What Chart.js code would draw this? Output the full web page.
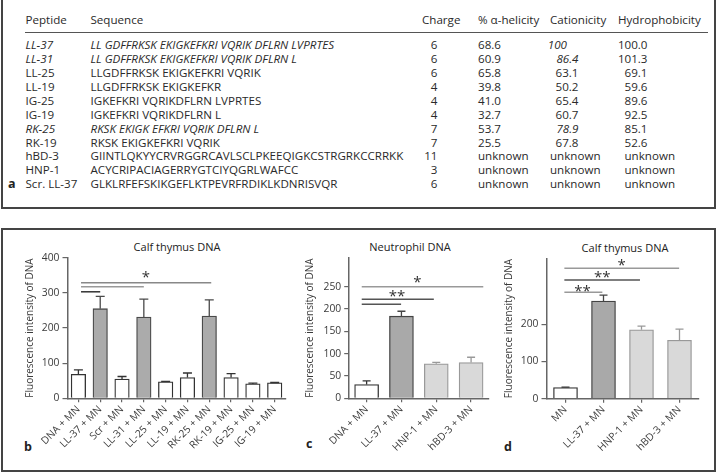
<!DOCTYPE html>
<html>
<head>
<meta charset="utf-8">
<script src="https://cdn.jsdelivr.net/npm/chart.js@4.4.1/dist/chart.umd.min.js"></script>
<style>
  body { margin: 0; width: 717px; height: 473px; background: #fff; position: relative; overflow: hidden;
         font-family: "Open Sans", sans-serif; color: #222; }
  .box { position: absolute; border: 2px solid #444; box-sizing: border-box; }
  .c { position: absolute; font-size: 11.6px; line-height: 14px; white-space: nowrap; color: #2a2a2a; }
  .it { font-style: italic; }
  .r { text-align: right; }
  .lbl { position: absolute; font-weight: bold; font-size: 12.5px; line-height: 14px; }
  .ttl { position: absolute; font-size: 11px; line-height: 14px; white-space: nowrap; transform: translateX(-50%); color: #222; }
  canvas { position: absolute; }
</style>
</head>
<body>
<div class="box" style="left:1px;top:-2px;width:715px;height:211px"></div>
<div class="box" style="left:1px;top:228px;width:715px;height:244px"></div>
<div id="table"></div>

<div class="ttl" style="left:177px;top:240px">Calf thymus DNA</div>
<div class="ttl" style="left:410px;top:240px">Neutrophil DNA</div>
<div class="ttl" style="left:625px;top:241px">Calf thymus DNA</div>
<div class="lbl" style="left:24px;top:440px">b</div>
<div class="lbl" style="left:306px;top:437px">c</div>
<div class="lbl" style="left:504px;top:440px">d</div>

<canvas id="chartB" width="300" height="235" style="left:0;top:235px"></canvas>
<canvas id="chartC" width="200" height="235" style="left:300px;top:235px"></canvas>
<canvas id="chartD" width="222" height="235" style="left:495px;top:235px"></canvas>

<script>
// table (panel a)
const peptides = ['LL-37', 'LL-31', 'LL-25', 'LL-19', 'IG-25', 'IG-19', 'RK-25', 'RK-19', 'hBD-3', 'HNP-1', 'Scr. LL-37'];
const sequences = [
  'LL GDFFRKSK EKIGKEFKRI VQRIK DFLRN LVPRTES',
  'LL GDFFRKSK EKIGKEFKRI VQRIK DFLRN L',
  'LLGDFFRKSK EKIGKEFKRI VQRIK',
  'LLGDFFRKSK EKIGKEFKR',
  'IGKEFKRI VQRIKDFLRN LVPRTES',
  'IGKEFKRI VQRIKDFLRN L',
  'RKSK EKIGK EFKRI VQRIK DFLRN L',
  'RKSK EKIGKEFKRI VQRIK',
  'GIINTLQKYYCRVRGGRCAVLSCLPKEEQIGKCSTRGRKCCRRKK',
  'ACYCRIPACIAGERRYGTCIYQGRLWAFCC',
  'GLKLRFEFSKIKGEFLKTPEVRFRDIKLKDNRISVQR'
];
const charges = ['6', '6', '6', '4', '4', '4', '7', '7', '11', '3', '6'];
const helicity = ['68.6', '60.9', '65.8', '39.8', '41.0', '32.7', '53.7', '25.5', 'unknown', 'unknown', 'unknown'];
const cationicity = ['100', '86.4', '63.1', '50.2', '65.4', '60.7', '78.9', '67.8', 'unknown', 'unknown', 'unknown'];
const hydrophobicity = ['100.0', '101.3', '69.1', '59.6', '89.6', '92.5', '85.1', '52.6', 'unknown', 'unknown', 'unknown'];
const italicRows = ['LL-37', 'LL-31', 'RK-25'];
const italicCation = ['100', '86.4', '78.9'];

const tbl = document.getElementById('table');
function cell(text, x, yc, opts = {}) {
  const d = document.createElement('div');
  d.className = 'c' + (opts.it ? ' it' : '') + (opts.right ? ' r' : '');
  d.textContent = text;
  d.style.top = (yc - 7) + 'px';
  if (opts.right) { d.style.left = (x - 80) + 'px'; d.style.width = '80px'; }
  else d.style.left = x + 'px';
  tbl.appendChild(d);
}
cell('Peptide', 25.5, 19.5);
cell('Sequence', 90.5, 19.5);
cell('Charge', 422, 19.5);
cell('% α-helicity', 478, 19.5);
cell('Cationicity', 550, 19.5);
cell('Hydrophobicity', 618, 19.5);
const rule = document.createElement('div');
rule.style.cssText = 'position:absolute;left:25px;top:32px;width:683px;height:1px;background:#555';
tbl.appendChild(rule);

peptides.forEach((p, i) => {
  const y = 45 + i * 13.93;
  const it = italicRows.includes(p);
  cell(p, 25.5, y, {it});
  cell(sequences[i], 90.5, y, {it});
  cell(charges[i], 437.5, y, {right: true});
  cell(helicity[i], 478, y);
  if (cationicity[i] === 'unknown') cell('unknown', 550, y);
  else if (cationicity[i] === '100') cell('100', 567, y, {right: true, it: true});
  else cell(cationicity[i], 578.5, y, {right: true, it: italicCation.includes(cationicity[i])});
  if (hydrophobicity[i] === 'unknown') cell('unknown', 624.5, y);
  else cell(hydrophobicity[i], 647.5, y, {right: true});
});
const la = document.createElement('div');
la.className = 'lbl'; la.textContent = 'a';
la.style.left = '8px'; la.style.top = '177px';
tbl.appendChild(la);

// panel b
const labelsB = ['DNA + MN', 'LL-37 + MN', 'Scr + MN', 'LL-31 + MN', 'LL-25 + MN', 'LL-19 + MN', 'RK-25 + MN', 'RK-19 + MN', 'IG-25 + MN', 'IG-19 + MN'];
const meanB = [68, 255, 55, 231, 47, 59, 234, 59, 41, 44];
const errB = [13, 35, 7, 51, 1, 13, 46, 11, 2, 1];
const fillB = ['#fff', '#ababab', '#fff', '#ababab', '#fff', '#fff', '#ababab', '#fff', '#fff', '#fff'];
const edgeB = ['#333', '#4a4a4a', '#333', '#4a4a4a', '#333', '#333', '#4a4a4a', '#333', '#333', '#333'];
// significance lines: from index, to index, value, colour
const sigB = [[0.12, 1.0, 303, '#333'], [0.12, 3.0, 317, '#999'], [0.12, 6.09, 329, '#888']];
const starsB = [[3.09, 353, '*']];

// panel c
const labelsC = ['DNA + MN', 'LL-37 + MN', 'HNP-1 + MN', 'hBD-3 + MN'];
const meanC = [31, 184, 77.5, 80];
const errC = [8, 11, 3, 12];
const sigC = [[-0.14, 3.35, 250, '#999'], [-0.14, 1.93, 222, '#555'], [-0.14, 0.99, 210.5, '#555']];
const starsC = [[1.46, 267, '*'], [0.87, 236, '**']];

// panel d
const labelsD = ['MN', 'LL-37 + MN', 'HNP-1 + MN', 'hBD-3 + MN'];
const meanD = [30, 262, 185, 157];
const errD = [1, 16, 10, 30];
const sigD = [[-0.03, 2.99, 350.5, '#999'], [-0.03, 1.96, 319, '#555'], [-0.03, 0.97, 286, '#999']];
const starsD = [[1.48, 368, '*'], [0.97, 334, '**'], [0.45, 298, '**']];

const fillCD = ['#fff', '#a9a9a9', '#d9d9d9', '#d9d9d9'];
const edgeCD = ['#333', '#444', '#999', '#999'];

function annot(err, mean, edges, cap, sig, stars) {
  return {
    id: 'annot',
    afterDatasetsDraw(chart) {
      const ctx = chart.ctx, xs = chart.scales.x, ys = chart.scales.y;
      const bars = chart.getDatasetMeta(0).data;
      ctx.save();
      bars.forEach((b, i) => {
        const top = ys.getPixelForValue(mean[i] + err[i]);
        ctx.strokeStyle = edges[i];
        ctx.lineWidth = 1.3;
        ctx.beginPath();
        ctx.moveTo(b.x, b.y);
        ctx.lineTo(b.x, top);
        ctx.moveTo(b.x - cap / 2, top);
        ctx.lineTo(b.x + cap / 2, top);
        ctx.stroke();
      });
      sig.forEach(s => {
        const y = ys.getPixelForValue(s[2]);
        ctx.strokeStyle = s[3];
        ctx.lineWidth = 1.5;
        ctx.beginPath();
        ctx.moveTo(xs.getPixelForValue(s[0]), y);
        ctx.lineTo(xs.getPixelForValue(s[1]), y);
        ctx.stroke();
      });
      ctx.fillStyle = '#333';
      ctx.font = '15px "Open Sans"';
      ctx.textAlign = 'center';
      ctx.textBaseline = 'alphabetic';
      stars.forEach(s => {
        ctx.fillText(s[2], xs.getPixelForValue(s[0]), ys.getPixelForValue(s[1]) + 8);
      });
      ctx.restore();
    }
  };
}

function makeChart(id, labels, mean, err, fill, edge, o) {
  new Chart(document.getElementById(id), {
    type: 'bar',
    data: {
      labels: labels,
      datasets: [{
        data: mean,
        backgroundColor: fill,
        borderColor: edge,
        borderWidth: 1.3,
        barThickness: o.bar
      }]
    },
    options: {
      responsive: false,
      animation: false,
      devicePixelRatio: 1,
      layout: { padding: { top: o.top, right: o.right, left: 0, bottom: 0 } },
      plugins: { legend: { display: false }, tooltip: { enabled: false } },
      scales: {
        x: {
          afterFit: s => { s.height = o.xh; },
          grid: { display: true, drawOnChartArea: false, offset: false, tickLength: 4, color: '#666', lineWidth: 1.2 },
          border: { display: true, color: '#666', width: 1.5 },
          ticks: { autoSkip: false, minRotation: 45, maxRotation: 45, padding: 1, color: '#3a3a3a',
                   font: { family: 'Open Sans', size: 10.3 } }
        },
        y: {
          min: 0,
          max: o.max,
          afterFit: s => { s.width = o.yw; },
          afterBuildTicks: s => { s.ticks = s.ticks.filter(t => t.value <= o.lastTick); },
          grid: { display: true, drawOnChartArea: false, tickLength: 5, color: '#666', lineWidth: 1.2 },
          border: { display: true, color: '#666', width: 1.5 },
          ticks: { stepSize: o.step, padding: 3, color: '#3a3a3a', font: { family: 'Open Sans', size: 10.3 } },
          title: { display: true, text: 'Fluorescence intensity of DNA', color: '#3a3a3a',
                   font: { family: 'Open Sans', size: 10 }, padding: { top: o.tp, bottom: 0 } }
        }
      }
    },
    plugins: [annot(err, mean, edge, o.cap, o.sig, o.stars)]
  });
}

makeChart('chartB', labelsB, meanB, errB, fillB, edgeB,
  { bar: 14.5, top: 22.7, right: 14.4, xh: 71.7, yw: 67.5, max: 400, lastTick: 400, step: 100, tp: 24.5, cap: 9, sig: sigB, stars: starsB });
makeChart('chartC', labelsC, meanC, errC, fillCD, edgeCD,
  { bar: 24, top: 22.7, right: 11.5, xh: 71.7, yw: 49.2, max: 315, lastTick: 250, step: 50, tp: 4.5, cap: 8, sig: sigC, stars: starsC });
makeChart('chartD', labelsD, meanD, errD, fillCD, edgeCD,
  { bar: 24, top: 23.3, right: 18.5, xh: 71.3, yw: 51.5, max: 377, lastTick: 200, step: 100, tp: 7.8, cap: 8, sig: sigD, stars: starsD });
</script>
</body>
</html>
